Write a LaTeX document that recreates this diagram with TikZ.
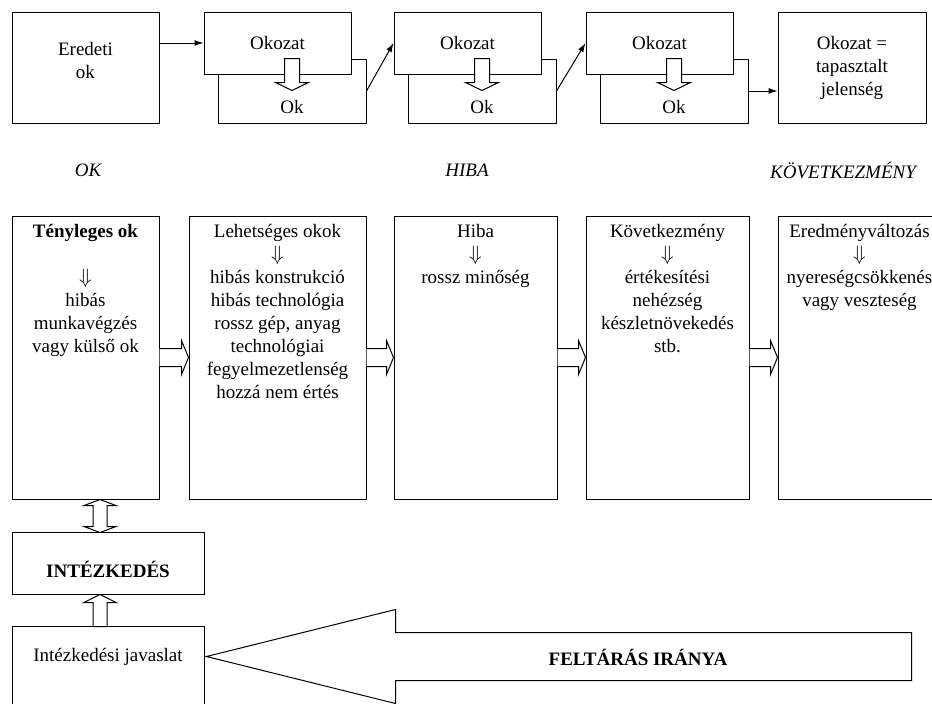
\documentclass[tikz,border=0pt]{standalone}
\usepackage{fontspec}
\setmainfont{Liberation Serif}
\usetikzlibrary{arrows.meta,calc,positioning}

\tikzset{
  box/.style={draw,line width=1pt,fill=white,inner sep=0pt,align=center},
  txt/.style={align=center,inner sep=0pt},
  hollow/.style={draw,line width=1pt,fill=white,line join=miter},
  conn/.style={line width=1pt,-{Latex[length=9pt,width=6pt]}},
}
\newcommand\lenyil{\scalebox{1.2}{$\Downarrow$}}

\begin{document}
\fontsize{19}{23}\selectfont
\begin{tikzpicture}[x=1pt,y=-1pt]
\useasboundingbox (0,0) rectangle (932,704);

% felso sor: ok -> okozat lanc
\node[box,minimum width=147,minimum height=111] (eredeti) at (85.5,67.5) {Eredeti\\ok\\[-8pt]};
\foreach \i/\x in {1/204,2/394,3/586}{
  \node[box,minimum width=148,minimum height=64] (ok\i) at (\x+88,91) {};
  \node[txt] (okt\i) at ($(ok\i.south)+(0,-16)$) {Ok};
  \node[box,minimum width=147,minimum height=62] (okozat\i) at (\x+73.5,43) {Okozat};
  \draw[hollow] ($(ok\i.north)+(-7.5,0)$) -- ++(0,24) -- ++(-9,0) -- ++(16.5,8)
    -- ++(16.5,-8) -- ++(-9,0) -- ++(0,-24) -- cycle;
}
\node[box,minimum width=148,minimum height=111] (jelenseg) at (852,67.5) {Okozat =\\tapasztalt\\jelenség};

\draw[conn] (eredeti.east |- okozat1.west) -- (okozat1.west);
\draw[conn] (ok1.east) -- (okozat2.west);
\draw[conn] (ok2.east) -- (okozat3.west);
\draw[conn] (ok3.east) -- (jelenseg.west |- ok3.east);

% cimkek
\node[txt,font=\itshape] (okcim) at (88,170) {OK};
\node[txt,font=\itshape] (hibacim) at (467,170) {HIBA};
\node[txt,font=\itshape] (kovcim) at (843,170) {KÖVETKEZMÉNY};

% kozepso sor
\node[box,minimum width=147,minimum height=283] (tenyleges) at (85.5,357.5) {};
\node[box,minimum width=177,minimum height=283] (lehetseges) at (277.5,357.5) {};
\node[box,minimum width=163,minimum height=283] (hiba) at (475.5,357.5) {};
\node[box,minimum width=163,minimum height=283] (kovetkezmeny) at (667.5,357.5) {};
\node[box,minimum width=163,minimum height=283] (eredmeny) at (859.5,357.5) {};

\node[txt,anchor=north] (tenyt) at ($(tenyleges.north)+(0,9)$)
  {\textbf{Tényleges ok}\\[23pt]\lenyil\\hibás\\munkavégzés\\vagy külső ok};
\node[txt,anchor=north] (lehet) at ($(lehetseges.north)+(0,9)$)
  {Lehetséges okok\\\lenyil\\hibás konstrukció\\hibás technológia\\rossz gép, anyag\\technológiai\\fegyelmezetlenség\\hozzá nem értés};
\node[txt,anchor=north] (hibat) at ($(hiba.north)+(0,9)$)
  {Hiba\\\lenyil\\rossz minőség};
\node[txt,anchor=north] (kovt) at ($(kovetkezmeny.north)+(0,9)$)
  {Következmény\\\lenyil\\értékesítési\\nehézség\\készletnövekedés\\stb.};
\node[txt,anchor=north] (eredt) at ($(eredmeny.north)+(0,9)$)
  {Eredményváltozás\\\lenyil\\nyereségcsökkenés\\vagy veszteség};

\foreach \a/\b in {tenyleges/lehetseges,lehetseges/hiba,hiba/kovetkezmeny,kovetkezmeny/eredmeny}
  \draw[hollow] ($(\a.east)+(0,-9)$) -- ($(\b.west)+(-7,-9)$) -- ($(\b.west)+(-7,-17)$)
    -- (\b.west) -- ($(\b.west)+(-7,17)$) -- ($(\b.west)+(-7,9)$) -- ($(\a.east)+(0,9)$);

% intezkedes
\node[box,minimum width=192,minimum height=62] (intezkedes) at (108,563)
  {\raisebox{-14pt}[0pt][0pt]{\textbf{INTÉZKEDÉS}}};
\node[box,minimum width=192,minimum height=100] (javaslat) at (108,676) {};
\node[txt] (javt) at ($(javaslat.north)+(0,31)$) {Intézkedési javaslat};

\draw[hollow] ($(tenyleges.south)+(14.5,0)$) -- ++(16,6) -- ++(-9,0) -- ++(0,21) -- ++(9,0)
  -- ++(-16,6) -- ++(-16,-6) -- ++(9,0) -- ++(0,-21) -- ++(-9,0) -- cycle;
\draw[hollow] ($(intezkedes.south)+(-8,0)$) -- ++(16,8) -- ++(-9,0) -- ++(0,24) -- ++(-14,0)
  -- ++(0,-24) -- ++(-9,0) -- cycle;

% feltaras iranya
\draw[hollow] ($(javaslat.east |- javt.east)+(2,0)$) -- ++(189,-47) -- ++(0,23) -- ++(516,0)
  -- ++(0,48) -- ++(-516,0) -- ++(0,23) -- cycle;
\node[txt,font=\bfseries] (irany) at (638,657) {FELTÁRÁS IRÁNYA};
\end{tikzpicture}
\end{document}
